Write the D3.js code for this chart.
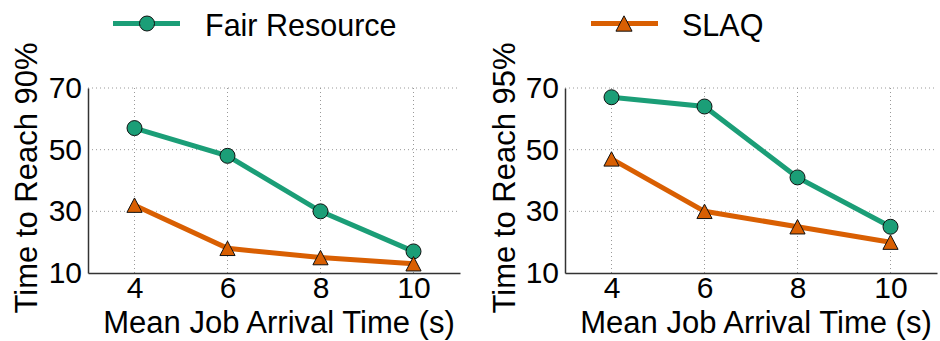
<!DOCTYPE html>
<html>
<head>
<meta charset="utf-8">
<title></title>
<style type="text/css">
    body{ padding:0; margin:0; overflow:hidden; background:#fff; }
    text{ font-family: "Liberation Sans", Arial, Helvetica, sans-serif; fill:#000; }
</style>
</head>
<body>
<div id="chart"></div>
<script src="https://cdn.jsdelivr.net/npm/d3@7/dist/d3.min.js"></script>
<script>
    // data
    var arrival = [4, 6, 8, 10];
    var fair90 = [57, 48, 30, 17];
    var slaq90 = [32, 18, 15, 13];
    var fair95 = [67, 64, 41, 25];
    var slaq95 = [47, 30, 25, 20];
    var yTicks = [10, 30, 50, 70];
    var xTicks = [4, 6, 8, 10];
    var seriesNames = ['Fair Resource', 'SLAQ'];

    var width = 940, height = 341;
    var green = '#1b9e77', orange = '#d95f02';

    var svg = d3.select('#chart').append('svg')
        .attr('width', width).attr('height', height);

    // matplotlib style '^' marker: centred on half height, not the centroid
    var triangleUp = {
        draw: function(ctx, size){
            var w = Math.sqrt(size), h = w * 0.95;
            ctx.moveTo(0, -h / 2);
            ctx.lineTo(w / 2, h / 2);
            ctx.lineTo(-w / 2, h / 2);
            ctx.closePath();
        }
    };

    var panels = [
        {left: 88, right: 460, label: 'Time to Reach 90%', labelX: 37, fair: fair90, slaq: slaq90},
        {left: 565, right: 937, label: 'Time to Reach 95%', labelX: 515, fair: fair95, slaq: slaq95}
    ];

    var plotTop = 88, plotBottom = 273;

    panels.forEach(function(p){
        var x = d3.scaleLinear().domain([3, 11]).range([p.left, p.right]);
        var y = d3.scaleLinear().domain([10, 70]).range([plotBottom, plotTop]);
        var g = svg.append('g');

        // dotted grid
        g.selectAll('.gy').data(yTicks.slice(1)).enter().append('line')
            .attr('x1', p.left).attr('x2', p.right)
            .attr('y1', d => y(d)).attr('y2', d => y(d))
            .style('stroke', '#999').style('stroke-width', 1).style('stroke-dasharray', '1,3');
        g.selectAll('.gx').data(xTicks).enter().append('line')
            .attr('x1', d => x(d)).attr('x2', d => x(d))
            .attr('y1', plotTop).attr('y2', plotBottom)
            .style('stroke', '#999').style('stroke-width', 1).style('stroke-dasharray', '1,3');

        // axes, labels only
        var yAxis = g.append('g').attr('transform', 'translate(' + p.left + ',0)')
            .call(d3.axisLeft(y).tickValues(yTicks).tickSize(0).tickPadding(6));
        var xAxis = g.append('g').attr('transform', 'translate(0,' + plotBottom + ')')
            .call(d3.axisBottom(x).tickValues(xTicks).tickSize(0).tickPadding(4));
        [xAxis, yAxis].forEach(function(a){
            a.select('.domain').style('stroke', '#333').style('stroke-width', 1.5);
            a.selectAll('text').style('font-size', '30px')
                .style('font-family', '"Liberation Sans", Arial, sans-serif').style('fill', '#000');
        });

        // axis titles
        g.append('text').attr('x', (p.left + p.right) / 2 + 5).attr('y', 333)
            .attr('text-anchor', 'middle').style('font-size', '31px')
            .text('Mean Job Arrival Time (s)');
        g.append('text')
            .attr('transform', 'translate(' + p.labelX + ',' + 178 + ') rotate(-90)')
            .attr('text-anchor', 'middle').style('font-size', '31px')
            .text(p.label);

        var line = d3.line().x((d, i) => x(arrival[i])).y(d => y(d));

        g.append('path').datum(p.fair).attr('d', line)
            .style('fill', 'none').style('stroke', green).style('stroke-width', 5);
        g.append('path').datum(p.slaq).attr('d', line)
            .style('fill', 'none').style('stroke', orange).style('stroke-width', 5);

        g.selectAll('.fc').data(p.fair).enter().append('circle')
            .attr('cx', (d, i) => x(arrival[i])).attr('cy', d => y(d)).attr('r', 7.5)
            .style('fill', green).style('stroke', '#111').style('stroke-width', 1);
        g.selectAll('.st').data(p.slaq).enter().append('path')
            .attr('d', d3.symbol().type(triangleUp).size(230))
            .attr('transform', (d, i) => 'translate(' + x(arrival[i]) + ',' + y(d) + ')')
            .style('fill', orange).style('stroke', '#111').style('stroke-width', 1);
    });

    // legend
    var legend = [
        {name: seriesNames[0], color: green, x: 113, tx: 205, marker: 'circle'},
        {name: seriesNames[1], color: orange, x: 591, tx: 682, marker: 'triangle'}
    ];
    legend.forEach(function(l){
        var ly = 23.5;
        svg.append('line').attr('x1', l.x).attr('x2', l.x + 67).attr('y1', ly).attr('y2', ly)
            .style('stroke', l.color).style('stroke-width', 5);
        if (l.marker == 'circle') {
            svg.append('circle').attr('cx', l.x + 34).attr('cy', ly).attr('r', 7.5)
                .style('fill', l.color).style('stroke', '#111').style('stroke-width', 1);
        } else {
            svg.append('path').attr('d', d3.symbol().type(triangleUp).size(260))
                .attr('transform', 'translate(' + (l.x + 33) + ',' + ly + ')')
                .style('fill', l.color).style('stroke', '#111').style('stroke-width', 1);
        }
        svg.append('text').attr('x', l.tx).attr('y', 35.5)
            .style('font-size', '30.5px').text(l.name);
    });
</script>
</body>
</html>
